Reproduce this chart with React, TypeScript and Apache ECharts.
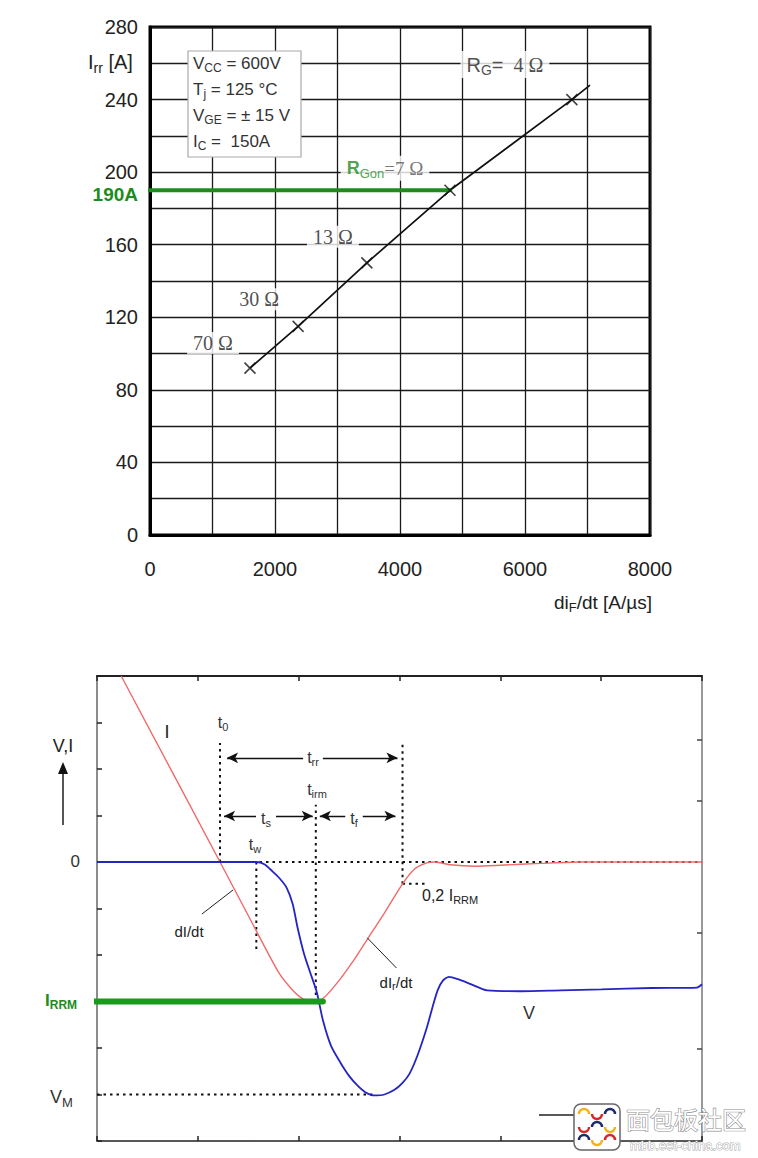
import React, { useEffect, useRef } from 'react';
import * as echarts from 'echarts';

// ---------- Top chart data (Irr vs diF/dt) ----------
const topXTicks = [0, 2000, 4000, 6000, 8000];
const topYTicks = [0, 40, 80, 120, 160, 200, 240, 280];
const gateResistors = ['70', '30', '13', '7', '4'];
const markerDidt = [1600, 2370, 3470, 4800, 6750];
const markerIrr = [92, 115, 150, 190, 240];
const curveDidt = [1600, 2370, 3470, 4800, 6750, 7040];
const curveIrr = [92, 115, 150, 190, 240, 248];
const markedIrr = 190;
const markedStartDidt = -160;
const markedEndDidt = 4800;
const conditionLines = [
  ['V', 'CC', ' = 600V'],
  ['T', 'j', ' = 125 °C'],
  ['V', 'GE', ' = ± 15 V'],
  ['I', 'C', ' =  150A'],
];

// ---------- Bottom chart data (reverse recovery waveform) ----------
const iTime = [0.24, 1.22, 1.5, 1.8, 1.95, 2.05, 2.17, 2.25, 2.4, 2.55, 2.69, 2.85, 3.03, 3.15, 3.27, 3.35, 3.5, 3.75, 4.0, 4.4, 4.8, 6.0];
const iValue = [4.0, 0, -1.15, -2.37, -2.78, -2.95, -3.0, -2.92, -2.55, -2.1, -1.63, -1.1, -0.47, -0.15, -0.02, 0, -0.06, -0.09, -0.07, -0.03, 0, 0];
const vTime = [0, 1.58, 1.66, 1.74, 1.81, 1.88, 1.94, 1.99, 2.05, 2.11, 2.18, 2.24, 2.32, 2.41, 2.5, 2.58, 2.66, 2.75, 2.85, 2.95, 3.03, 3.1, 3.18, 3.27, 3.33, 3.38, 3.43, 3.49, 3.58, 3.7, 3.87, 4.2, 4.6, 5.0, 5.5, 5.95, 6.0];
const vValue = [0, 0, -0.05, -0.2, -0.35, -0.55, -0.9, -1.42, -1.95, -2.35, -2.8, -3.4, -3.95, -4.3, -4.6, -4.8, -4.95, -5.02, -5.0, -4.9, -4.75, -4.55, -4.15, -3.57, -3.1, -2.75, -2.55, -2.47, -2.52, -2.62, -2.76, -2.78, -2.76, -2.74, -2.71, -2.7, -2.63];
const t0 = 1.22;
const tw = 1.58;
const tirm = 2.17;
const trrEnd = 3.03;
const iRRM = -3;
const vM = -5;
const vMTime = 2.75;
const point2IRRM = -0.47;
const rightTicks = [2.62, 1.31, -1.53, -4.02];

const SANS = '"Liberation Sans", Arial, Helvetica, sans-serif';
const SERIF = '"Liberation Serif", "Times New Roman", serif';
const GREEN = '#1c8c1c';

function subRich(size: number, color: string, weight = 'normal', family = SANS) {
  return {
    m: { fontSize: size, fontFamily: family, fill: color, color, fontWeight: weight },
    s: { fontSize: Math.round(size * 0.7), fontFamily: family, fill: color, color, fontWeight: weight, padding: [Math.round(size * 0.55), 0, 0, 0] },
  };
}

function txt(x: number, y: number, text: string, o: any = {}) {
  return {
    type: 'text',
    x,
    y,
    z: 30,
    style: {
      text,
      fontSize: o.size || 16,
      fontFamily: o.family || SANS,
      fontWeight: o.weight || 'normal',
      fill: o.color || '#222',
      align: o.align || 'center',
      verticalAlign: 'middle',
      rich: o.rich,
      backgroundColor: o.bg,
      padding: o.pad,
    },
  };
}

export default function App() {
  const ref = useRef<HTMLDivElement>(null);

  useEffect(() => {
    if (!ref.current) return;
    const chart = echarts.init(ref.current, null, { renderer: 'svg' });

    const labelOffsets = [[-37, -25], [-39, -27], [-34, -26], [-65, -22], [-67, -35]];
    const scatterData = markerDidt.map((x, i) => {
      let formatter = `{b|${gateResistors[i]} Ω}`;
      if (i === 3) formatter = `{g|R}{gs|Gon}{c|=${gateResistors[i]} Ω}`;
      if (i === 4) formatter = `{a|R}{as|G}{a|=}{b|  ${gateResistors[i]} Ω}`;
      return {
        value: [x, markerIrr[i]],
        label: {
          show: true,
          position: 'inside',
          offset: labelOffsets[i],
          formatter,
          backgroundColor: '#fff',
          padding: [1, 6, 1, 6],
          rich: {
            b: { fontSize: 20, fontFamily: SERIF, color: '#222' },
            a: { fontSize: 20, fontFamily: SANS, color: '#222' },
            as: { fontSize: 14, fontFamily: SANS, color: '#222', padding: [11, 0, 0, 0] },
            g: { fontSize: 18, fontFamily: SANS, color: GREEN, fontWeight: 'bold' },
            gs: { fontSize: 13, fontFamily: SANS, color: GREEN, padding: [10, 0, 0, 0] },
            c: { fontSize: 19, fontFamily: SERIF, color: '#555' },
          },
        },
      };
    });

    const dotted = { color: '#111', width: 2, type: [2.5, 4] as any };
    const bx = 2;
    const by = 1;
    const dottedSeries = (data: number[][]) => ({
      type: 'line', xAxisIndex: bx, yAxisIndex: by, data, symbol: 'none', silent: true,
      lineStyle: dotted, z: 3,
    });

    const legendGraphic: any[] = [
      { type: 'rect', shape: { x: 188, y: 51, width: 113, height: 106 }, style: { fill: '#fff', stroke: '#aaa', lineWidth: 1.2 }, z: 25 },
      ...conditionLines.map((l, i) =>
        txt(193, 63 + i * 26, `{m|${l[0]}}{s|${l[1]}}{m|${l[2]}}`, { align: 'left', rich: subRich(17, '#333') })
      ),
    ];

    const option: any = {
      animation: false,
      backgroundColor: '#fff',
      grid: [
        { left: 150, top: 27, width: 500, height: 508, show: true, borderColor: '#000', borderWidth: 3, backgroundColor: 'transparent' },
        { left: 97, top: 676, width: 605, height: 465 },
      ],
      xAxis: [
        {
          gridIndex: 0, type: 'value', min: 0, max: 8000, interval: 1000,
          axisLine: { show: true, onZero: false, lineStyle: { color: '#000', width: 3 } },
          axisTick: { show: false },
          splitLine: { show: true, lineStyle: { color: '#1a1a1a', width: 1.3 } },
          axisLabel: {
            formatter: (v: number) => (topXTicks.includes(v) ? String(v) : ''),
            fontSize: 20, fontFamily: SANS, color: '#222', margin: 24, showMaxLabel: true, showMinLabel: true,
          },
        },
        {
          gridIndex: 0, type: 'value', min: 0, max: 8000, position: 'top', show: false,
        },
        {
          gridIndex: 1, type: 'value', min: 0, max: 6, interval: 1, position: 'bottom',
          axisLine: { show: true, onZero: false, lineStyle: { color: '#222', width: 1.5 } },
          axisTick: { show: true, inside: true, length: 5, lineStyle: { color: '#222', width: 1.5 } },
          axisLabel: { show: false }, splitLine: { show: false },
        },
        {
          gridIndex: 1, type: 'value', min: 0, max: 6, interval: 1, position: 'top',
          axisLine: { show: true, onZero: false, lineStyle: { color: '#222', width: 2 } },
          axisTick: { show: true, inside: true, length: 5, lineStyle: { color: '#222', width: 1.5 } },
          axisLabel: { show: false }, splitLine: { show: false },
        },
      ],
      yAxis: [
        {
          gridIndex: 0, type: 'value', min: 0, max: 280, interval: 20,
          axisLine: { show: true, onZero: false, lineStyle: { color: '#000', width: 3 } },
          axisTick: { show: false },
          splitLine: { show: true, lineStyle: { color: '#1a1a1a', width: 1.3 } },
          axisLabel: {
            formatter: (v: number) => (topYTicks.includes(v) ? String(v) : ''),
            fontSize: 20, fontFamily: SANS, color: '#222', margin: 12, showMaxLabel: true, showMinLabel: true,
          },
        },
        {
          gridIndex: 1, type: 'value', min: -6, max: 4, interval: 1, position: 'left',
          axisLine: { show: true, onZero: false, lineStyle: { color: '#666', width: 1.5 } },
          axisTick: { show: true, inside: true, length: 5, lineStyle: { color: '#222', width: 1.5 } },
          axisLabel: { show: false }, splitLine: { show: false },
        },
        {
          gridIndex: 1, type: 'value', min: -6, max: 4, position: 'right',
          axisLine: { show: true, onZero: false, lineStyle: { color: '#777', width: 1.5 } },
          axisTick: { show: true, inside: true, length: 5, customValues: rightTicks, lineStyle: { color: '#444', width: 1.5 } },
          axisLabel: { show: false }, splitLine: { show: false },
        },
      ],
      series: [
        // ---- top chart ----
        {
          type: 'line', xAxisIndex: 0, yAxisIndex: 0, symbol: 'none', silent: true, z: 3,
          data: curveDidt.map((x, i) => [x, curveIrr[i]]),
          lineStyle: { color: '#111', width: 1.7 },
        },
        {
          type: 'line', xAxisIndex: 0, yAxisIndex: 0, symbol: 'none', silent: true, clip: false, z: 4,
          data: [[markedStartDidt, markedIrr], [markedEndDidt, markedIrr]],
          lineStyle: { color: GREEN, width: 4, cap: 'round' },
        },
        {
          type: 'scatter', xAxisIndex: 0, yAxisIndex: 0, silent: true, z: 5,
          symbol: 'path://M0 0L10 10M10 0L0 10', symbolSize: 11,
          itemStyle: { color: 'none', borderColor: '#111', borderWidth: 1.6 },
          data: scatterData,
        },
        // ---- bottom chart ----
        dottedSeries([[0, 0], [6, 0]]),
        dottedSeries([[t0, 0], [t0, 2.56]]),
        dottedSeries([[tw, 0], [tw, -1.9]]),
        dottedSeries([[tirm, iRRM], [tirm, 1.23]]),
        dottedSeries([[trrEnd, point2IRRM], [trrEnd, 2.56]]),
        dottedSeries([[trrEnd, point2IRRM], [3.25, point2IRRM]]),
        dottedSeries([[0, vM], [vMTime, vM]]),
        {
          type: 'line', xAxisIndex: bx, yAxisIndex: by, symbol: 'none', silent: true, z: 5, smooth: 0.25,
          data: iTime.map((t, i) => [t, iValue[i]]),
          lineStyle: { color: '#f06a6a', width: 1.4 },
        },
        {
          type: 'line', xAxisIndex: bx, yAxisIndex: by, symbol: 'none', silent: true, z: 6, smooth: 0.25,
          data: vTime.map((t, i) => [t, vValue[i]]),
          lineStyle: { color: '#2424c4', width: 1.8 },
        },
        {
          type: 'line', xAxisIndex: bx, yAxisIndex: by, symbol: 'none', silent: true, clip: false, z: 7,
          data: [[-0.12, iRRM], [2.24, iRRM]],
          lineStyle: { color: '#1a9a1a', width: 6, cap: 'round' },
        },
        {
          type: 'line', xAxisIndex: bx, yAxisIndex: by, symbol: 'none', silent: true, z: 7,
          data: [[1.04, -1.12], [1.35, -0.6]],
          lineStyle: { color: '#222', width: 1 },
        },
        {
          type: 'line', xAxisIndex: bx, yAxisIndex: by, symbol: 'none', silent: true, z: 7,
          data: [[2.68, -1.63], [2.97, -2.28]],
          lineStyle: { color: '#222', width: 1 },
        },
        {
          type: 'line', xAxisIndex: bx, yAxisIndex: by, data: [], silent: true,
          markLine: {
            silent: true, symbol: ['arrow', 'arrow'], symbolSize: [8, 11], animation: false,
            lineStyle: { color: '#111', width: 1.3, type: 'solid' },
            label: { show: false },
            data: [
              [{ coord: [1.29, 2.24] }, { coord: [2.98, 2.24] }],
              [{ coord: [1.26, 0.99] }, { coord: [2.14, 0.99] }],
              [{ coord: [2.21, 0.99] }, { coord: [2.96, 0.99] }],
            ],
          },
        },
      ],
      graphic: [
        // top chart texts
        txt(88, 62, '{m|I}{s|rr}{m| [A]}', { align: 'left', rich: subRich(20, '#222') }),
        txt(138, 194, '190A', { align: 'right', size: 19, weight: 'bold', color: GREEN }),
        txt(652, 602, '{m|di}{s|F}{m|/dt [A/µs]}', { align: 'right', rich: subRich(19, '#222') }),
        ...legendGraphic,
        // bottom chart texts
        txt(63, 746, 'V,I', { size: 18 }),
        { type: 'line', shape: { x1: 63, y1: 825, x2: 63, y2: 772 }, style: { stroke: '#555', lineWidth: 2 }, z: 30 },
        { type: 'polygon', shape: { points: [[58, 774], [68, 774], [63, 762]] }, style: { fill: '#111' }, z: 30 },
        txt(80, 861, '0', { size: 17, align: 'right', color: '#333' }),
        txt(45, 1000, '{m|I}{s|RRM}', { align: 'left', rich: subRich(17, GREEN, 'bold') }),
        txt(50, 1097, '{m|V}{s|M}', { align: 'left', rich: subRich(18, '#333') }),
        txt(167, 732, 'I', { size: 18 }),
        txt(223, 722, '{m|t}{s|0}', { rich: subRich(16, '#333') }),
        txt(313, 757, '{m|t}{s|rr}', { rich: subRich(16, '#333'), bg: '#fff', pad: [0, 4, 0, 4] }),
        txt(317, 789, '{m|t}{s|irm}', { rich: subRich(16, '#333') }),
        txt(266, 818, '{m|t}{s|s}', { rich: subRich(16, '#333'), bg: '#fff', pad: [0, 5, 0, 5] }),
        txt(354, 818, '{m|t}{s|f}', { rich: subRich(16, '#333'), bg: '#fff', pad: [0, 5, 0, 5] }),
        txt(255, 844, '{m|t}{s|w}', { rich: subRich(16, '#333') }),
        txt(189, 931, 'dI/dt', { size: 15, color: '#222' }),
        txt(396, 982, '{m|dI}{s|r}{m|/dt}', { rich: subRich(15, '#222') }),
        txt(422, 895, '{m|0,2 I}{s|RRM}', { align: 'left', rich: subRich(16, '#222') }),
        txt(529, 1013, 'V', { size: 18, color: '#333' }),
        { type: 'line', shape: { x1: 539, y1: 1115, x2: 583, y2: 1115 }, style: { stroke: '#222', lineWidth: 1.3 }, z: 30 },
        // watermark
        {
          type: 'group', x: 574, y: 1104, z: 40,
          children: [
            { type: 'rect', shape: { x: 0, y: 0, width: 46, height: 46, r: 7 }, style: { fill: '#fff', stroke: '#666', lineWidth: 1.5 }, z: 40 },
            ...[0, 1, 2].flatMap((r) =>
              [0, 1, 2].map((c) => ({
                type: 'arc', z: 41,
                shape: { cx: 10 + c * 13, cy: 10 + r * 13, r: 5, startAngle: (r + c) % 2 ? 0 : Math.PI, endAngle: (r + c) % 2 ? Math.PI : Math.PI * 2 },
                style: { stroke: ['#f2b21b', '#d8262a', '#1d2a6b'][(r + c) % 3], lineWidth: 2.5, fill: 'none' },
              }))
            ),
          ],
        },
        {
          type: 'text', x: 626, y: 1118, z: 40,
          style: { text: '面包板社区', fontSize: 24, fontFamily: '"Noto Sans CJK SC", sans-serif', fill: '#fff', stroke: '#8a8a8a', lineWidth: 1.2, align: 'left', verticalAlign: 'middle' },
        },
        {
          type: 'text', x: 630, y: 1145, z: 40,
          style: { text: 'mbb.eet-china.com', fontSize: 13, fontFamily: SANS, fill: '#fff', stroke: '#999', lineWidth: 0.8, align: 'left', verticalAlign: 'middle' },
        },
      ],
    };

    chart.setOption(option);
    return () => chart.dispose();
  }, []);

  return (
    <div
      ref={ref}
      style={{ position: 'absolute', left: 0, top: 0, width: 758, height: 1158, background: '#fff' }}
    />
  );
}
